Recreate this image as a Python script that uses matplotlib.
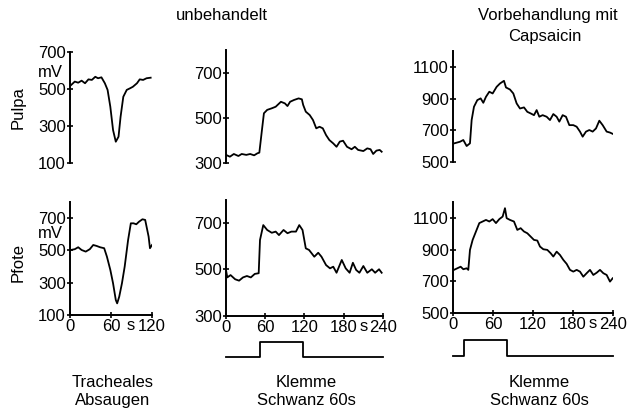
import matplotlib
matplotlib.use('Agg')
import matplotlib.pyplot as plt

plt.rcParams['font.family'] = ['Liberation Sans', 'DejaVu Sans']
plt.rcParams['font.size'] = 12

# Pulpa, tracheales Absaugen (s, mV)
pulpa_tr_t = [1.5, 7, 12, 17, 22, 27, 32, 37, 41, 46, 51, 55, 59, 63, 67, 71, 74, 78, 83, 88, 92, 98, 102, 107, 112, 118]
pulpa_tr_v = [521, 540, 534, 545, 531, 552, 549, 566, 558, 563, 531, 495, 404, 278, 215, 242, 350, 458, 495, 504, 512, 531, 552, 549, 558, 561]

# Pfote, tracheales Absaugen
pfote_tr_t = [1, 7, 12, 17, 23, 29, 34, 39, 44, 50, 54, 59, 63, 67, 69, 72, 76, 80, 85, 89, 93, 97, 101, 106, 110, 115, 117, 120]
pfote_tr_v = [502, 507, 519, 502, 492, 507, 533, 527, 519, 513, 461, 379, 296, 193, 172, 213, 296, 399, 564, 667, 667, 661, 677, 692, 688, 585, 513, 533]

# Pulpa, Klemme Schwanz, unbehandelt
pulpa_kl_t = [0, 6, 12, 19, 24, 31, 37, 43, 48, 51, 55, 58, 63, 70, 76, 84, 90, 94, 98, 104, 111, 116, 118, 122, 128,
              133, 138, 143, 148, 153, 158, 164, 169, 174, 179, 185, 192, 197, 202, 210, 216, 221, 225, 230, 235, 238]
pulpa_kl_v = [336, 328, 340, 331, 340, 336, 340, 334, 343, 346, 447, 521, 536, 543, 550, 572, 565, 553, 572, 580, 587, 583, 558, 528, 513,
              491, 454, 461, 454, 424, 402, 387, 372, 395, 399, 372, 361, 372, 358, 353, 365, 361, 340, 355, 358, 350]

# Pfote, Klemme Schwanz, unbehandelt
pfote_kl_t = [0, 2, 7, 14, 20, 26, 32, 38, 44, 50, 52, 57, 63, 70, 76, 81, 88, 94, 100, 107, 112, 117, 122, 127, 135,
              141, 146, 153, 159, 164, 169, 177, 183, 189, 194, 199, 204, 210, 216, 223, 228, 234, 238]
pfote_kl_v = [498, 466, 476, 458, 452, 466, 472, 466, 481, 484, 627, 691, 670, 658, 663, 648, 670, 656, 663, 663, 691, 670, 591, 584, 555,
              572, 555, 519, 505, 512, 486, 541, 505, 486, 529, 498, 486, 515, 486, 501, 486, 501, 486]

# Pulpa, Klemme Schwanz, Vorbehandlung mit Capsaicin
pulpa_cap_t = [2, 10.5, 15.5, 20.5, 25.5, 28, 31.5, 36.5, 41.5, 45.5, 49.5, 54.5, 59.5, 65.5, 70.5, 76.5, 79.5, 85.5, 90.5, 95.5,
               100.5, 106.5, 111.5, 116.5, 121.5, 125.5, 129.5, 134.5, 140.5, 145.5, 150.5, 155.5, 159.5, 164.5, 169.5, 174.5,
               180.5, 185.5, 190.5, 194.5, 199.5, 204.5, 209.5, 214.5, 219.5, 224.5, 230.5, 235.5, 239.5]
pulpa_cap_v = [618, 628, 639, 601, 618, 765, 849, 891, 902, 874, 912, 944, 933, 975, 996, 1013, 971, 958, 933, 870,
               838, 845, 817, 807, 796, 828, 786, 796, 786, 765, 803, 786, 755, 796, 786, 733,
               733, 723, 692, 660, 692, 702, 692, 712, 761, 733, 692, 686, 678]

# Pfote, Klemme Schwanz, Vorbehandlung mit Capsaicin
pfote_cap_t = [1.5, 6.5, 11.5, 15.5, 20.5, 23, 25.5, 29.5, 34.5, 39.5, 44.5, 49.5, 54.5, 59.5, 64.5, 69.5, 74.5, 78, 80.5, 85.5,
               91.5, 96.5, 101.5, 106.5, 111.5, 116.5, 121.5, 126.5, 130.5, 135.5, 141.5, 146.5, 150.5, 155.5, 160.5, 165.5,
               170.5, 175.5, 180.5, 185.5, 190.5, 195.5, 200.5, 205.5, 210.5, 215.5, 220.5, 225.5, 230.5, 235.5, 239.5]
pfote_cap_v = [772, 782, 792, 776, 782, 772, 898, 961, 1014, 1067, 1077, 1087, 1077, 1092, 1067, 1092, 1108, 1161, 1098, 1087,
               1077, 1024, 1035, 1014, 1003, 982, 961, 957, 919, 902, 898, 877, 856, 887, 866, 835,
               810, 772, 761, 772, 761, 729, 751, 772, 740, 754, 772, 751, 740, 698, 719]

# Klemme (Stimulus) an/aus, s
clamp_unbeh = (52, 118)
clamp_caps = (16, 81)

fig = plt.figure(figsize=(6.3, 4.09), dpi=100)


def style(ax, yticks, ylim, xlim, xticks=None):
    for s in ['top', 'right']:
        ax.spines[s].set_visible(False)
    ax.spines['left'].set_linewidth(1.4)
    ax.set_ylim(ylim)
    ax.set_xlim(xlim)
    ax.set_yticks(yticks)
    ax.tick_params(axis='y', direction='inout', length=4, width=1.2, pad=1)
    if xticks is None:
        ax.spines['bottom'].set_visible(False)
        ax.set_xticks([])
    else:
        ax.spines['bottom'].set_linewidth(1.4)
        ax.set_xticks(xticks)
        ax.tick_params(axis='x', direction='inout', length=4, width=1.2, pad=1)


ax_tl = fig.add_axes([0.1111, 0.6015, 0.1302, 0.2714])
ax_tl.plot(pulpa_tr_t, pulpa_tr_v, color='black', lw=1.3)
style(ax_tl, [100, 300, 500, 700], (100, 700), (0, 120))

ax_bl = fig.add_axes([0.1111, 0.2298, 0.1302, 0.2768])
ax_bl.plot(pfote_tr_t, pfote_tr_v, color='black', lw=1.3)
style(ax_bl, [100, 300, 500, 700], (100, 800), (0, 120), [0, 60, 120])
ax_bl.text(89, -0.03, 's', transform=ax_bl.get_xaxis_transform(), ha='center', va='top')

ax_tm = fig.add_axes([0.3587, 0.6015, 0.2492, 0.2751])
ax_tm.plot(pulpa_kl_t, pulpa_kl_v, color='black', lw=1.3)
style(ax_tm, [300, 500, 700], (300, 800), (0, 240))

ax_bm = fig.add_axes([0.3587, 0.2274, 0.2492, 0.2842])
ax_bm.plot(pfote_kl_t, pfote_kl_v, color='black', lw=1.3)
style(ax_bm, [300, 500, 700], (300, 800), (0, 240), [0, 60, 120, 180, 240])
ax_bm.text(210, -0.03, 's', transform=ax_bm.get_xaxis_transform(), ha='center', va='top')

ax_tr = fig.add_axes([0.7190, 0.6039, 0.2540, 0.2709])
ax_tr.plot(pulpa_cap_t, pulpa_cap_v, color='black', lw=1.3)
style(ax_tr, [500, 700, 900, 1100], (500, 1200), (0, 240))

ax_br = fig.add_axes([0.7190, 0.2347, 0.2540, 0.2714])
ax_br.plot(pfote_cap_t, pfote_cap_v, color='black', lw=1.3)
style(ax_br, [500, 700, 900, 1100], (500, 1200), (0, 240), [0, 60, 120, 180, 240])
ax_br.text(210, -0.03, 's', transform=ax_br.get_xaxis_transform(), ha='center', va='top')

# stimulus traces
for pos, (on, off) in [([0.3587, 0.1271, 0.2492, 0.0367], clamp_unbeh),
                       ([0.7190, 0.1296, 0.2540, 0.0391], clamp_caps)]:
    axs = fig.add_axes(pos)
    axs.plot([0, on, on, off, off, 240], [0, 0, 1, 1, 0, 0], color='black', lw=1.3, clip_on=False)
    axs.set_xlim(0, 240)
    axs.set_ylim(0, 1)
    axs.axis('off')

fig.text(0.352, 0.963, 'unbehandelt', ha='center', va='center')
fig.text(0.870, 0.963, 'Vorbehandlung mit', ha='center', va='center')
fig.text(0.865, 0.910, 'Capsaicin', ha='center', va='center')
fig.text(0.0286, 0.736, 'Pulpa', rotation=90, ha='center', va='center')
fig.text(0.0286, 0.359, 'Pfote', rotation=90, ha='center', va='center')
fig.text(0.080, 0.822, 'mV', ha='center', va='center')
fig.text(0.080, 0.428, 'mV', ha='center', va='center')
fig.text(0.178, 0.066, 'Tracheales', ha='center', va='center')
fig.text(0.178, 0.020, 'Absaugen', ha='center', va='center')
fig.text(0.486, 0.066, 'Klemme', ha='center', va='center')
fig.text(0.486, 0.020, 'Schwanz 60s', ha='center', va='center')
fig.text(0.856, 0.066, 'Klemme', ha='center', va='center')
fig.text(0.856, 0.020, 'Schwanz 60s', ha='center', va='center')

fig.savefig('out.png', dpi=100)
